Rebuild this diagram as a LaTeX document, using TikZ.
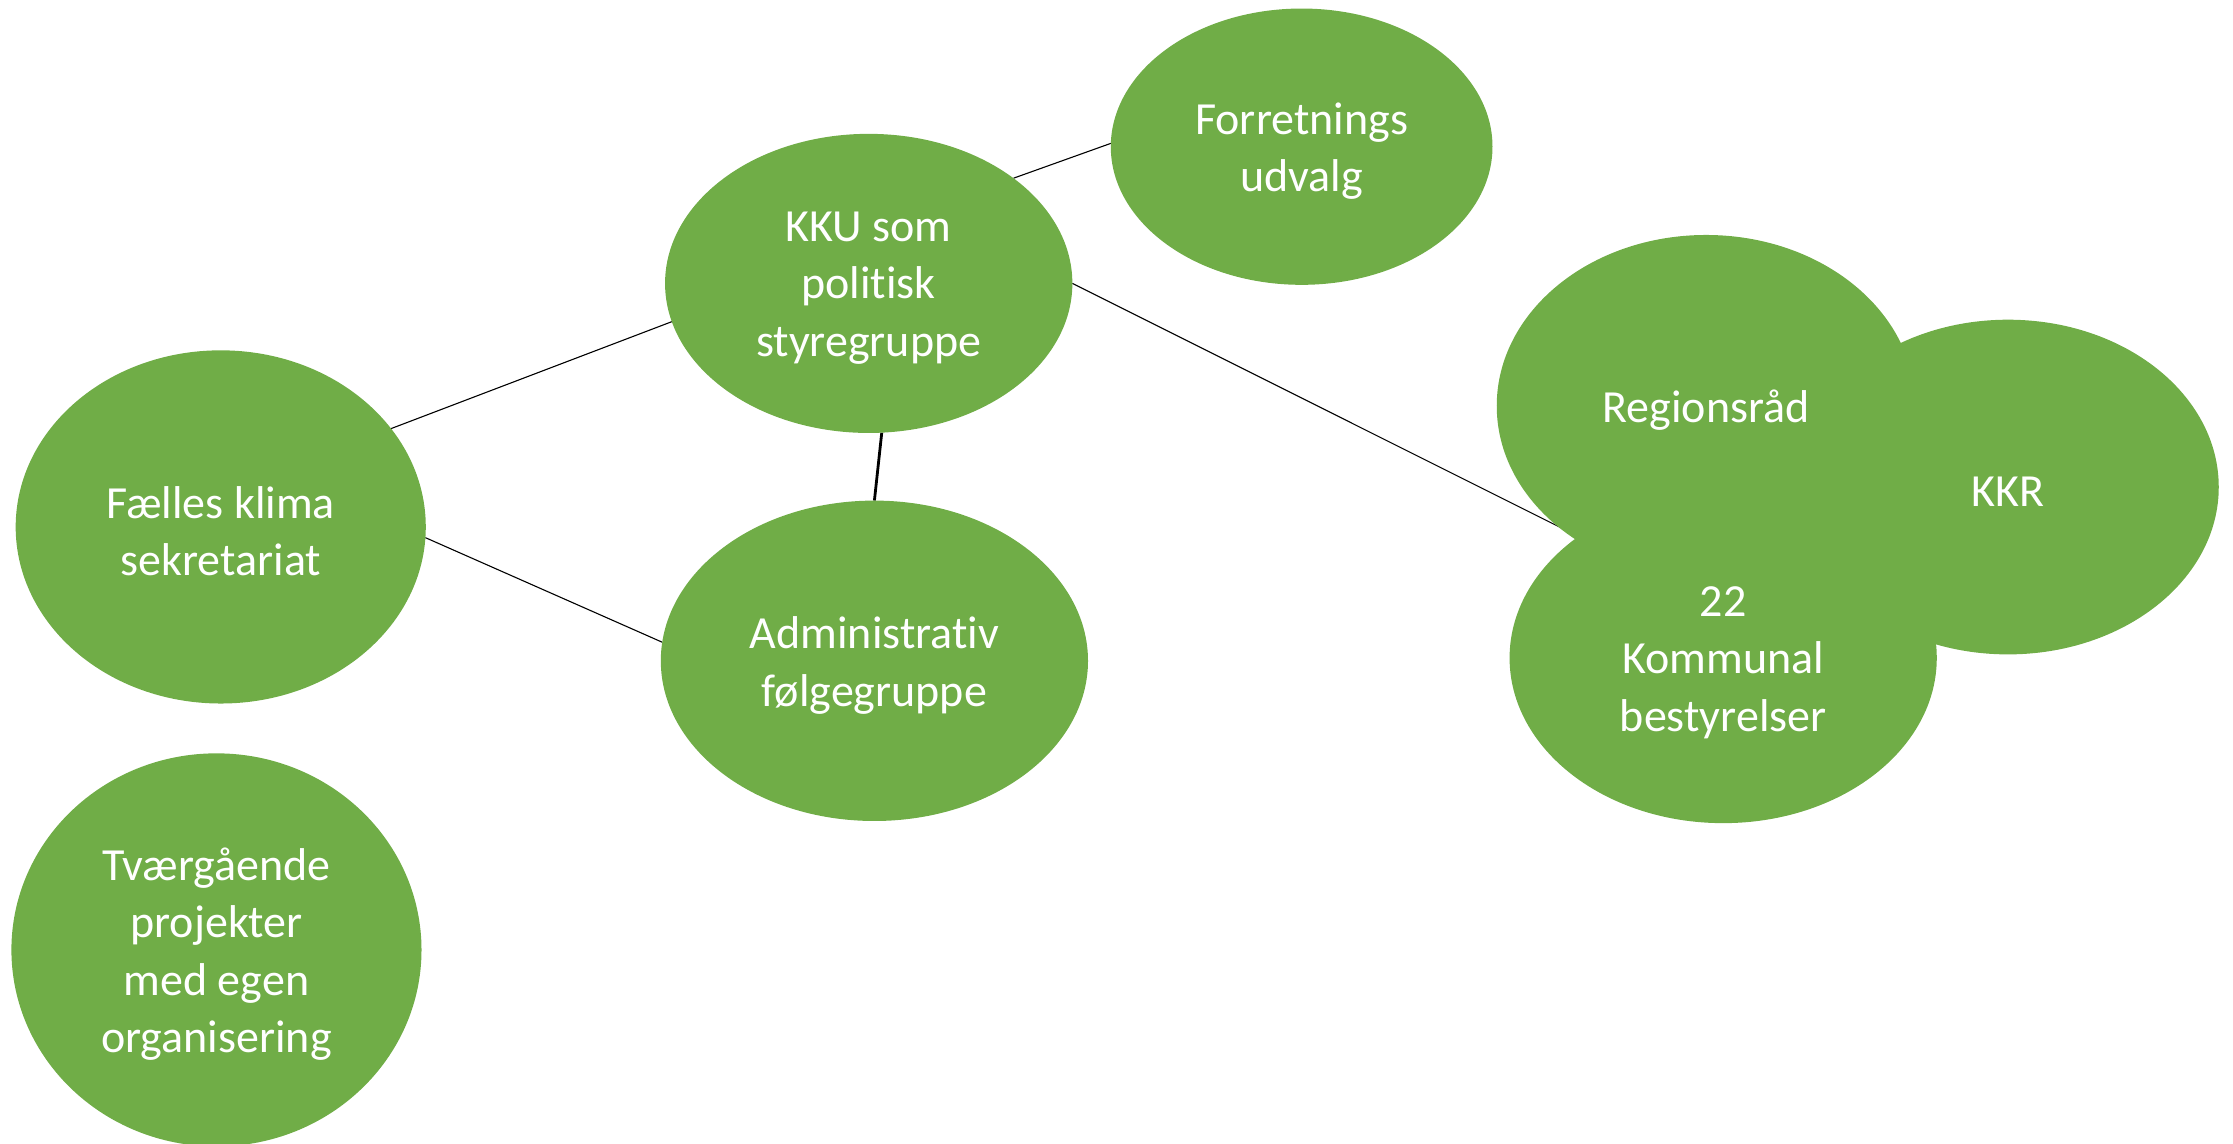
\documentclass[tikz,border=0pt]{standalone}
\usepackage{fontspec}
\setmainfont{Carlito}[Ligatures=NoCommon]
\usetikzlibrary{shapes.geometric,backgrounds}
\definecolor{ogreen}{RGB}{112,173,71}
\tikzset{
  blob/.style={ellipse, fill=ogreen, draw=none, inner sep=0pt, outer sep=0pt},
  txt/.style={text=white, align=center, font=\fontsize{46}{57.5}\selectfont,
    inner sep=0pt, yshift=-4.5pt},
  link/.style={draw=black, line width=1.1pt},
  thicklink/.style={draw=black, line width=2.8pt}
}
\begin{document}
\begin{tikzpicture}[x=1.4241pt,y=-1.4241pt]
\clip (0,0) rectangle (1568,803);
\node[blob, minimum width=381.7pt, minimum height=276.3pt,
  label={[txt]center:{Forretnings\\udvalg}}] (forr) at (914,103) {};
\node[blob, minimum width=407.3pt, minimum height=299.1pt,
  label={[txt]center:{KKU som\\politisk\\styregruppe}}] (kku) at (610,199) {};
\node[blob, minimum width=410.1pt, minimum height=353.2pt,
  label={[txt]center:{Fælles klima\\sekretariat}}] (fael) at (155,370) {};
\node[blob, minimum width=427.2pt, minimum height=320.4pt,
  label={[txt]center:{Administrativ\\følgegruppe}}] (adm) at (614,464) {};
\node[blob, minimum width=410.1pt, minimum height=393.1pt,
  label={[txt]center:{Tværgående\\projekter\\med egen\\organisering}}] (tvaer) at (152,667) {};
\node[blob, minimum width=421.5pt, minimum height=334.7pt,
  label={[txt]center:{KKR}}] (kkr) at (1410,342) {};
\node[blob, minimum width=418.7pt, minimum height=341.8pt,
  label={[txt]center:{Regionsråd}}] (reg) at (1198,285) {};
\node[blob, minimum width=427.2pt, minimum height=330.4pt,
  label={[txt]center:{22\\Kommunal\\bestyrelser}}] (komm) at (1210,462) {};
\begin{scope}[on background layer]
\draw[link] (kku.36) -- (forr.179);
\draw[link] (fael.30) -- (kku.191);
\draw[link] (fael.-3) -- (adm.175);
\draw[thicklink] (kku.-85) -- (adm.north);
\draw[link] (kku.east) -- (komm.140);
\end{scope}
\end{tikzpicture}
\end{document}
